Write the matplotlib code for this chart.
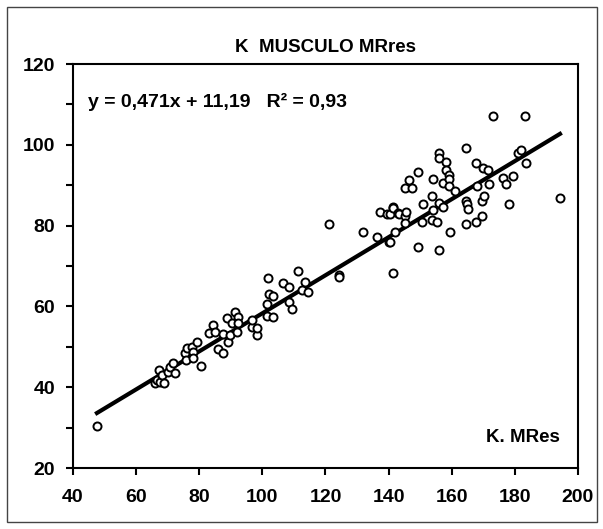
import matplotlib.pyplot as plt
from matplotlib.patches import Rectangle
import numpy as np

plt.rcParams['font.family'] = ['Liberation Sans', 'DejaVu Sans']
plt.rcParams['font.weight'] = 'bold'

# K. MRes (x) vs K musculo (y)
k_mres = [47.6,
          66.0, 66.6, 67.2, 67.6, 68.2, 68.8, 70.1, 70.7, 71.7, 72.3,
          75.5, 75.8, 76.1, 77.7, 78.0, 78.0, 79.3, 80.6,
          83.1, 84.4, 85.0, 86.0, 87.5, 87.5, 88.8, 89.1, 89.7, 90.4,
          91.3, 92.0, 92.3, 92.3, 96.7, 96.7, 98.3, 98.3,
          101.5, 101.5, 101.8, 102.1, 103.4, 103.4, 106.5, 108.4, 108.4,
          109.4, 111.3, 112.6, 113.5, 114.5,
          121.1, 124.3, 124.3,
          131.9, 136.3, 137.3, 139.5, 140.1, 140.4, 140.4, 141.4, 141.4,
          141.4, 142.0, 143.0, 143.3, 145.2, 145.2, 145.2, 145.5, 146.5,
          147.4, 149.3, 149.3, 150.6, 151.0, 153.8, 153.8, 154.0, 154.0,
          155.3, 156.0, 156.0, 156.0, 156.0, 157.2, 157.2, 158.2, 158.2,
          159.1, 159.1, 159.1, 159.5, 161.0, 164.5, 164.5, 164.5, 164.8,
          165.2, 167.7, 167.7, 168.0, 169.6, 169.6, 169.9, 170.2, 171.5,
          171.8, 173.1, 176.2, 177.2, 178.2, 179.4, 181.0, 182.0, 183.2,
          183.5, 194.3]
k_musculo = [30.4,
             41.0, 41.8, 44.3, 41.3, 43.0, 41.0, 43.8, 45.0, 46.0, 43.5,
             48.5, 46.7, 49.7, 49.9, 48.7, 47.2, 51.2, 45.2,
             53.4, 55.4, 53.7, 49.5, 48.5, 53.2, 57.1, 51.2, 52.9, 55.9,
             58.6, 53.7, 57.4, 55.9, 54.9, 56.6, 52.9, 54.7,
             60.6, 57.6, 67.0, 63.1, 62.6, 57.4, 65.8, 64.8, 61.1,
             59.4, 68.8, 64.1, 66.0, 63.6,
             80.4, 67.8, 67.3,
             78.4, 77.2, 83.4, 82.9, 75.9, 82.9, 75.9, 84.6, 68.3,
             84.4, 78.4, 83.1, 82.9, 89.3, 82.4, 80.6, 83.4, 91.3,
             89.3, 93.3, 74.7, 80.9, 85.3, 87.3, 81.4, 91.5, 83.9,
             80.9, 98.0, 96.7, 85.6, 74.0, 84.6, 90.5, 95.7, 93.8,
             92.5, 91.5, 89.8, 78.4, 88.6, 99.2, 86.1, 80.4, 85.3,
             84.1, 95.5, 80.9, 89.8, 86.1, 82.4, 94.3, 87.3, 93.8,
             90.3, 107.1, 91.8, 90.3, 85.3, 92.3, 98.0, 98.7, 107.1,
             95.5, 86.8]

x_ticks = [40, 60, 80, 100, 120, 140, 160, 180, 200]
y_ticks = [20, 40, 60, 80, 100, 120]
y_minor = [30, 50, 70, 90, 110]

slope, intercept, r2 = 0.471, 11.19, 0.93

fig = plt.figure(figsize=(6.03, 5.29), dpi=100)
ax = fig.add_axes([0.121, 0.1153, 0.8375, 0.7637])

xs = np.array([min(k_mres), max(k_mres)])
ax.plot(xs, slope * xs + intercept, color='black', lw=3, zorder=2)
ax.plot(k_mres, k_musculo, 'o', ms=5.8, mfc='white', mec='black', mew=1.4,
        zorder=3)

ax.set_xlim(40, 200)
ax.set_ylim(20, 120)
ax.set_xticks(x_ticks, [str(t) for t in x_ticks], fontsize=14,
              fontweight='bold')
ax.set_yticks(y_ticks, [str(t) for t in y_ticks], fontsize=14,
              fontweight='bold')
ax.set_yticks(y_minor, minor=True)
ax.tick_params(axis='both', which='both', direction='out', length=5,
               width=1.5)
ax.tick_params(axis='x', pad=10)
ax.tick_params(axis='y', pad=8)
for sp in ax.spines.values():
    sp.set_linewidth(1.5)

ax.set_title('K  MUSCULO MRres', fontsize=13.5, fontweight='bold', pad=9)
ax.text(0.03, 0.905,
        f'y = {slope:.3f}x + {intercept:.2f}   R² = {r2:.2f}'.replace('.', ','),
        transform=ax.transAxes, fontsize=14, fontweight='bold',
        va='center', ha='left')
ax.text(0.965, 0.075, 'K. MRes', transform=ax.transAxes, fontsize=13.5,
        fontweight='bold', ha='right', va='center')

fig.patches.append(Rectangle((0.011, 0.013), 0.979, 0.974,
                             transform=fig.transFigure, fill=False,
                             edgecolor='#444444', lw=1))

fig.savefig('out.png', dpi=100)
